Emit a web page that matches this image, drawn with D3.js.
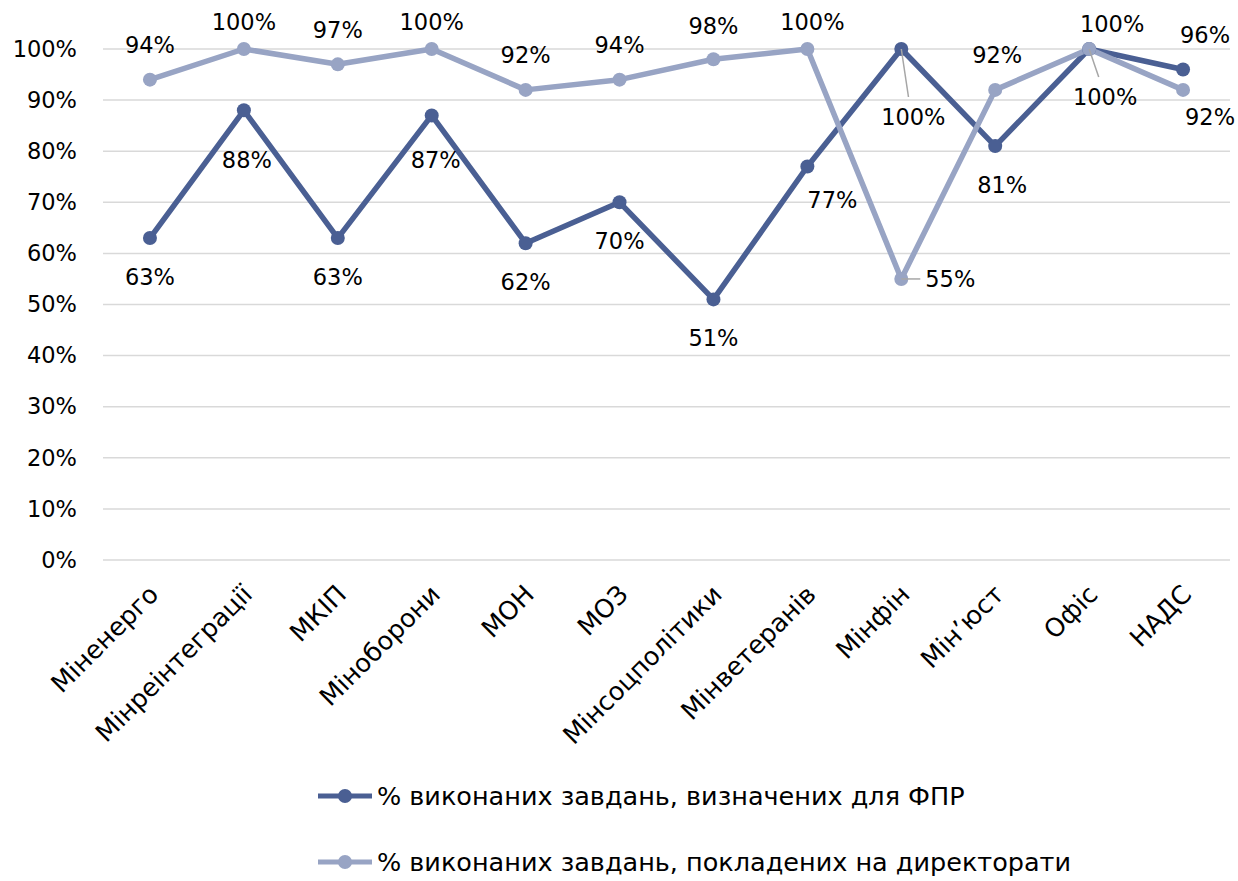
<!DOCTYPE html>
<html><head><meta charset="utf-8">
<script src="https://cdn.jsdelivr.net/npm/d3@7"></script>
<style>
body{margin:0;background:#fff;}
text{font-family:"DejaVu Sans",sans-serif;fill:#000;}
</style></head>
<body><svg id="c" width="1238" height="881"></svg>
<script>
const categories = ["Міненерго","Мінреінтеграції","МКІП","Міноборони","МОН","МОЗ","Мінсоцполітики","Мінветеранів","Мінфін","Мін’юст","Офіс","НАДС"];
const seriesFPR = [63,88,63,87,62,70,51,77,100,81,100,96];
const seriesDir = [94,100,97,100,92,94,98,100,55,92,100,92];
const yTicks = [0,10,20,30,40,50,60,70,80,90,100];
const seriesNames = ["% виконаних завдань, визначених для ФПР","% виконаних завдань, покладених на директорати"];

// label placement (dx, dy from point, leader line flag)
const labelPosFPR = [[0,39],[3,50],[0,39],[4,45],[0,39],[0,39],[0,39],[25,33],[12,68,1],[7,39],[16,48,1],[22,-34]];
const labelPosDir = [[0,-35],[0,-27],[0,-34],[0,-27],[0,-35],[0,-35],[0,-33],[5,-27],[49,0,1],[2,-35],[23,-25],[27,27]];

const colors = ["#4a5f93","#98a4c4"];
const svg = d3.select("#c");
const x = d3.scaleBand().domain(categories).range([103,1230]);
const y = d3.scaleLinear().domain([0,100]).range([560,49]);
const fs = 22.5;   // numbers
const fsT = 25.5;  // category & legend text

svg.append("g").selectAll("line").data(yTicks).join("line")
  .attr("x1",103).attr("x2",1230).attr("y1",d=>y(d)).attr("y2",d=>y(d))
  .attr("stroke","#d9d9d9").attr("stroke-width",1.5);

const yAxis = d3.axisLeft(y).tickValues(yTicks).tickFormat(d=>d+"%").tickSize(0).tickPadding(0);
const gy = svg.append("g").attr("transform","translate(77,0)").call(yAxis);
gy.select(".domain").remove();
gy.selectAll("text").attr("font-size",fs).style("font-family","DejaVu Sans").attr("fill","#000");

const xAxis = d3.axisBottom(x).tickSize(0).tickPadding(0);
const gx = svg.append("g").attr("transform","translate(0,560)").call(xAxis);
gx.select(".domain").remove();
gx.selectAll("text").attr("font-size",fsT).style("font-family","DejaVu Sans").attr("fill","#000")
  .attr("text-anchor","end").attr("dy",null).attr("y",0)
  .attr("transform","translate(10,36) rotate(-45)");

const cx = d => x(d) + x.bandwidth()/2;
const line = d3.line().x(d=>cx(d.c)).y(d=>y(d.v));
const all = [seriesFPR, seriesDir];
const lp = [labelPosFPR, labelPosDir];
all.forEach((s,i)=>{
  const pts = categories.map((c,j)=>({c,v:s[j]}));
  svg.append("path").datum(pts).attr("d",line).attr("fill","none")
    .attr("stroke",colors[i]).attr("stroke-width",5.5).attr("stroke-linejoin","round");
});
all.forEach((s,i)=>{
  const pts = categories.map((c,j)=>({c,v:s[j]}));
  svg.append("g").selectAll("circle").data(pts).join("circle")
    .attr("cx",d=>cx(d.c)).attr("cy",d=>y(d.v)).attr("r",7).attr("fill",colors[i]);
});
all.forEach((s,i)=>{
  const pts = categories.map((c,j)=>({c,v:s[j],p:lp[i][j]}));
  const g = svg.append("g");
  pts.forEach(d=>{
    const px = cx(d.c), py = y(d.v);
    const lx = px + d.p[0], ly = py + d.p[1];
    if (d.p[2]) {
      let ex, ey;
      if (Math.abs(d.p[0]) > Math.abs(d.p[1])) { ex = lx - 30; ey = ly; }
      else { ex = px + d.p[0]*0.6; ey = ly - 20; }
      g.append("line").attr("x1",px).attr("y1",py).attr("x2",ex).attr("y2",ey)
        .attr("stroke","#a6a6a6").attr("stroke-width",1.5);
    }
    g.append("text").attr("x",lx).attr("y",ly).attr("text-anchor","middle")
      .attr("dominant-baseline","central").attr("font-size",fs).text(d.v+"%");
  });
});

seriesNames.forEach((n,i)=>{
  const ly = 796 + i*66;
  const g = svg.append("g");
  g.append("line").attr("x1",318).attr("x2",372).attr("y1",ly).attr("y2",ly)
    .attr("stroke",colors[i]).attr("stroke-width",5);
  g.append("circle").attr("cx",345).attr("cy",ly).attr("r",7).attr("fill",colors[i]);
  g.append("text").attr("x",377).attr("y",ly).attr("dominant-baseline","central")
    .attr("font-size",fsT).text(n);
});
</script></body></html>
